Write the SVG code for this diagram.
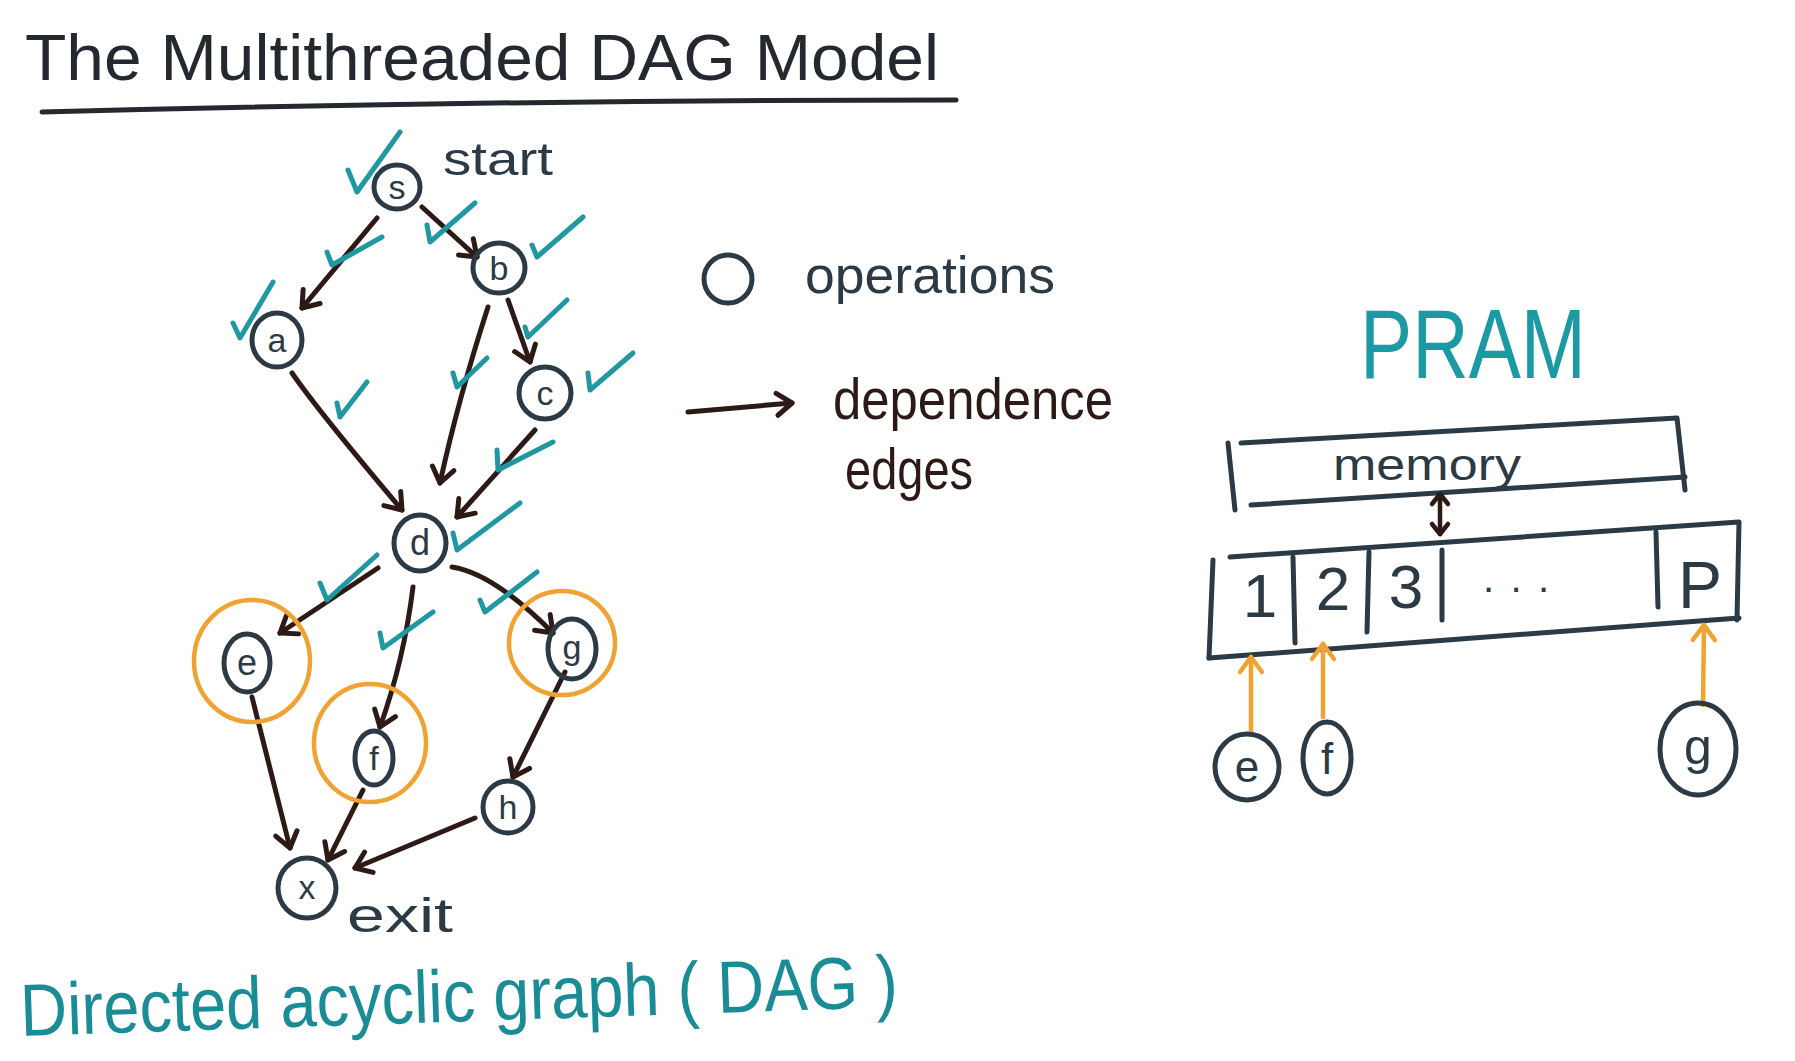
<svg xmlns="http://www.w3.org/2000/svg" width="1795" height="1061" viewBox="0 0 1795 1061">
<style>
  .node { fill: none; stroke: #2b3a44; stroke-width: 5; }
  .lbl { font-family: "Liberation Sans", Arial, sans-serif; fill: #2b3a44; text-anchor: middle; }
  .edge { fill: none; stroke: #2d1a16; stroke-width: 5; stroke-linecap: round; marker-end: url(#arr); }
  .chk { fill: none; stroke: #1f98a1; stroke-width: 5; stroke-linecap: round; stroke-linejoin: round; }
  .ring { fill: none; stroke: #f0a233; stroke-width: 4.5; }
  .oarr { fill: none; stroke: #f0a233; stroke-width: 4.5; stroke-linecap: round; marker-end: url(#arrO); }
  .box { fill: none; stroke: #2b3a44; stroke-width: 5; stroke-linecap: round; stroke-linejoin: round; }
  .hand { font-family: "Liberation Sans", Arial, sans-serif; }
</style>
<defs>
  <marker id="arr" markerUnits="userSpaceOnUse" markerWidth="40" markerHeight="40" viewBox="-20 -20 40 40" refX="0" refY="0" orient="auto">
    <path d="M-15,-11 L0,0 L-15,11" fill="none" stroke="#2d1a16" stroke-width="5" stroke-linecap="round" stroke-linejoin="round"/>
  </marker>
  <marker id="arrO" markerUnits="userSpaceOnUse" markerWidth="40" markerHeight="40" viewBox="-20 -20 40 40" refX="0" refY="0" orient="auto">
    <path d="M-15,-11 L0,0 L-15,11" fill="none" stroke="#f0a233" stroke-width="4.5" stroke-linecap="round" stroke-linejoin="round"/>
  </marker>
  <marker id="arrS" markerUnits="userSpaceOnUse" markerWidth="30" markerHeight="30" viewBox="-15 -15 30 30" refX="0" refY="0" orient="auto-start-reverse">
    <path d="M-10,-8 L0,0 L-10,8" fill="none" stroke="#2d1a16" stroke-width="4.5" stroke-linecap="round" stroke-linejoin="round"/>
  </marker>
</defs>
<rect width="1795" height="1061" fill="#ffffff"/>

<!-- Title -->
<g id="title">
  <text class="hand" x="25" y="80" font-size="64" fill="#23292e" textLength="914" lengthAdjust="spacingAndGlyphs">The Multithreaded DAG Model</text>
  <path d="M42,112 Q500,100 956,100" fill="none" stroke="#23292e" stroke-width="5" stroke-linecap="round"/>
</g>

<!-- Connectors -->
<g id="connectors">
  <path class="edge" d="M377,218 L302,308"/>
  <path class="edge" d="M422,207 L477,257"/>
  <path class="edge" d="M508,300 L530,362"/>
  <path class="edge" d="M488,307 Q458,400 440,483"/>
  <path class="edge" d="M292,373 Q319,412 402,510"/>
  <path class="edge" d="M535,430 L457,517"/>
  <path class="edge" d="M378,568 L280,633"/>
  <path class="edge" d="M413,587 Q404,660 380,727"/>
  <path class="edge" d="M452,567 C485,572 520,600 553,633"/>
  <path class="edge" d="M252,697 L290,848"/>
  <path class="edge" d="M363,790 L328,860"/>
  <path class="edge" d="M565,672 L513,777"/>
  <path class="edge" d="M475,818 L355,868"/>
</g>

<!-- Nodes -->
<g id="node-s"><ellipse class="node" cx="397" cy="187" rx="23" ry="22"/><text class="lbl" x="397" y="199" font-size="34">s</text></g>
<g id="node-a"><ellipse class="node" cx="277" cy="340" rx="25" ry="27"/><text class="lbl" x="277" y="352" font-size="34">a</text></g>
<g id="node-b"><ellipse class="node" cx="499" cy="268" rx="26" ry="25"/><text class="lbl" x="499" y="280" font-size="34">b</text></g>
<g id="node-c"><ellipse class="node" cx="545" cy="393" rx="26" ry="26"/><text class="lbl" x="545" y="405" font-size="34">c</text></g>
<g id="node-d"><ellipse class="node" cx="420" cy="543" rx="26" ry="28"/><text class="lbl" x="420" y="555" font-size="36">d</text></g>
<g id="node-e"><ellipse class="node" cx="247" cy="663" rx="23" ry="29"/><text class="lbl" x="247" y="675" font-size="36">e</text></g>
<g id="node-f"><ellipse class="node" cx="374" cy="758" rx="19" ry="27"/><text class="lbl" x="374" y="770" font-size="34">f</text></g>
<g id="node-g"><ellipse class="node" cx="572" cy="649" rx="24" ry="30"/><text class="lbl" x="572" y="659" font-size="34">g</text></g>
<g id="node-h"><ellipse class="node" cx="508" cy="807" rx="25" ry="26"/><text class="lbl" x="508" y="819" font-size="34">h</text></g>
<g id="node-x"><ellipse class="node" cx="307" cy="888" rx="29" ry="30"/><text class="lbl" x="307" y="899" font-size="34">x</text></g>

<!-- Orange rings -->
<g id="rings">
  <ellipse class="ring" cx="252" cy="661" rx="58" ry="61"/>
  <ellipse class="ring" cx="370" cy="743" rx="56" ry="59"/>
  <ellipse class="ring" cx="562" cy="643" rx="53" ry="52"/>
</g>

<!-- Check marks -->
<g id="checks">
  <path class="chk" d="M348,170 L357,192 L400,132"/>
  <path class="chk" d="M327,252 L332,265 L382,237"/>
  <path class="chk" d="M427,225 L430,242 L475,203"/>
  <path class="chk" d="M532,245 L537,257 L583,217"/>
  <path class="chk" d="M233,323 L240,338 L273,282"/>
  <path class="chk" d="M337,403 L340,417 L367,382"/>
  <path class="chk" d="M525,327 L528,337 L567,300"/>
  <path class="chk" d="M453,373 L457,387 L487,358"/>
  <path class="chk" d="M588,373 L590,390 L633,353"/>
  <path class="chk" d="M497,450 L498,470 L553,442"/>
  <path class="chk" d="M453,533 L457,550 L520,503"/>
  <path class="chk" d="M320,583 L327,600 L377,555"/>
  <path class="chk" d="M380,633 L383,648 L433,612"/>
  <path class="chk" d="M480,600 L485,612 L537,572"/>
</g>

<!-- Graph labels -->
<g id="graph-labels">
  <text class="hand" x="443" y="175" font-size="46" fill="#2b3a44" textLength="110" lengthAdjust="spacingAndGlyphs">start</text>
  <text class="hand" x="347" y="932" font-size="48" fill="#2b3a44" textLength="106" lengthAdjust="spacingAndGlyphs">exit</text>
</g>

<!-- Legend -->
<g id="legend">
  <ellipse cx="728" cy="279" rx="24" ry="24" fill="none" stroke="#2b3a44" stroke-width="5"/>
  <text class="hand" x="805" y="293" font-size="52" fill="#2b3a44" textLength="250" lengthAdjust="spacingAndGlyphs">operations</text>
  <path d="M688,412 L792,403" fill="none" stroke="#2d1a16" stroke-width="5" stroke-linecap="round" marker-end="url(#arr)"/>
  <text class="hand" x="833" y="419" font-size="58" fill="#2d1a16" textLength="280" lengthAdjust="spacingAndGlyphs">dependence</text>
  <text class="hand" x="845" y="489" font-size="58" fill="#2d1a16" textLength="128" lengthAdjust="spacingAndGlyphs">edges</text>
</g>

<!-- Bottom caption -->
<g id="caption">
  <text class="hand" x="21" y="1036" font-size="74" fill="#1a8c96" textLength="878" lengthAdjust="spacingAndGlyphs" transform="rotate(-1.9 21 1036)">Directed acyclic graph ( DAG )</text>
</g>

<!-- PRAM -->
<g id="pram-title">
  <text class="hand" x="1360" y="378" font-size="98" fill="#1b9aa3" textLength="226" lengthAdjust="spacingAndGlyphs">PRAM</text>
</g>
<g id="memory">
  <path class="box" d="M1241,443 L1677,418 L1685,490"/>
  <path class="box" d="M1251,505 L1685,477"/>
  <path class="box" d="M1228,443 L1235,510"/>
  <text class="hand" x="1333" y="480" font-size="44" fill="#2b3a44" textLength="188" lengthAdjust="spacingAndGlyphs">memory</text>
</g>
<g id="mem-link">
  <path d="M1440,494 L1440,534" fill="none" stroke="#2d1a16" stroke-width="4.5" stroke-linecap="round" marker-start="url(#arrS)" marker-end="url(#arrS)"/>
</g>
<g id="processors">
  <path class="box" d="M1230,557 L1739,522 L1737,620"/>
  <path class="box" d="M1209,658 L1739,618"/>
  <path class="box" d="M1213,560 L1209,658"/>
  <path class="box" d="M1293,557 L1295,643"/>
  <path class="box" d="M1369,552 L1367,632"/>
  <path class="box" d="M1442,550 L1442,620"/>
  <path class="box" d="M1656,532 L1658,607"/>
  <text class="lbl" x="1260" y="617" font-size="62">1</text>
  <text class="lbl" x="1333" y="610" font-size="62">2</text>
  <text class="lbl" x="1406" y="608" font-size="62">3</text>
  <text class="lbl" x="1516" y="592" font-size="40" textLength="66" lengthAdjust="spacing">...</text>
  <text class="lbl" x="1700" y="608" font-size="66">P</text>
</g>
<g id="proc-arrows">
  <path class="oarr" d="M1251,735 L1251,657"/>
  <path class="oarr" d="M1323,717 L1323,644"/>
  <path class="oarr" d="M1703,705 L1704,625"/>
</g>
<g id="node-e2"><ellipse class="node" cx="1247" cy="767" rx="32" ry="33"/><text class="lbl" x="1247" y="782" font-size="44">e</text></g>
<g id="node-f2"><ellipse class="node" cx="1327" cy="758" rx="24" ry="36"/><text class="lbl" x="1327" y="774" font-size="44">f</text></g>
<g id="node-g2"><ellipse class="node" cx="1698" cy="749" rx="38" ry="46"/><text class="lbl" x="1698" y="764" font-size="50">g</text></g>
</svg>
